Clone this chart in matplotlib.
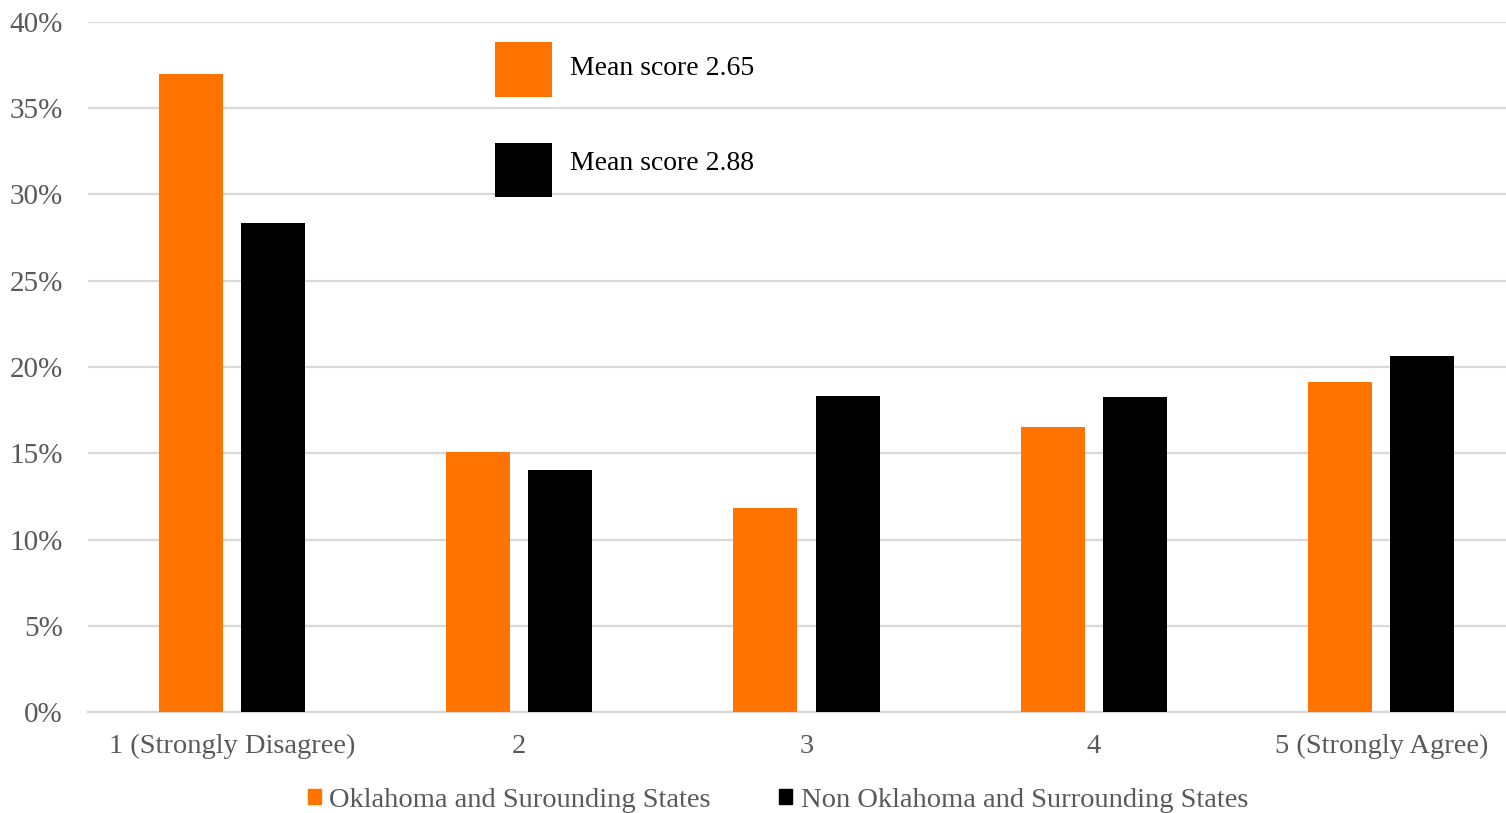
import matplotlib.pyplot as plt
from matplotlib.patches import Rectangle

categories = ['1 (Strongly Disagree)', '2', '3', '4', '5 (Strongly Agree)']
oklahoma = [37.0, 15.1, 11.85, 16.5, 19.15]
non_oklahoma = [28.35, 14.0, 18.3, 18.25, 20.65]
mean_labels = ['Mean score 2.65', 'Mean score 2.88']
series_names = ['Oklahoma and Surounding States', 'Non Oklahoma and Surrounding States']

orange = '#FF7300'
black = '#000000'
grey_txt = '#595959'
grid_c = '#D9D9D9'

plt.rcParams['font.family'] = ['Liberation Serif', 'DejaVu Serif']

fig = plt.figure(figsize=(15.06, 8.13), dpi=100)
ax = fig.add_axes([88 / 1506, 101 / 813, 1437 / 1506, 690 / 813])

x = list(range(len(categories)))
w = 0.223
off = 0.143
ax.bar([i - off for i in x], oklahoma, width=w, color=orange, zorder=3)
ax.bar([i + off for i in x], non_oklahoma, width=w, color=black, zorder=3)

ax.set_xlim(-0.5, 4.5)
ax.set_ylim(0, 40)
ax.set_yticks(range(0, 41, 5))
ax.set_yticklabels([f'{v}%' for v in range(0, 41, 5)])
ax.set_xticks(x)
ax.set_xticklabels(categories)
ax.tick_params(axis='y', length=0, labelsize=21, labelcolor=grey_txt, pad=18)
ax.tick_params(axis='x', length=0, labelsize=20.5, labelcolor=grey_txt, pad=16)
ax.grid(axis='y', color=grid_c, linewidth=1.6, zorder=0)
for s in ['top', 'right', 'left']:
    ax.spines[s].set_visible(False)
ax.spines['bottom'].set_color(grid_c)
ax.spines['bottom'].set_linewidth(1.6)

# mean score boxes
boxes = [(0.8807, 0.0677, orange), (0.7577, 0.0664, black)]
text_y = [0.916, 0.799]
for (y0, h, c), ty, lab in zip(boxes, text_y, mean_labels):
    fig.patches.append(Rectangle((495 / 1506, y0), 57 / 1506, h, transform=fig.transFigure,
                                 facecolor=c, edgecolor='none', zorder=5))
    fig.text(570 / 1506, ty, lab, fontsize=20, color='black', va='center', ha='left')

handles = [Rectangle((0, 0), 1, 1, color=orange), Rectangle((0, 0), 1, 1, color=black)]
fig.legend(handles, series_names, loc='center', bbox_to_anchor=(778 / 1506, 13 / 813),
           ncol=2, frameon=False, fontsize=20.5, labelcolor=grey_txt,
           handlelength=0.45, handleheight=0.45, handletextpad=0.3, columnspacing=2.4)

fig.savefig('out.png', dpi=100)
